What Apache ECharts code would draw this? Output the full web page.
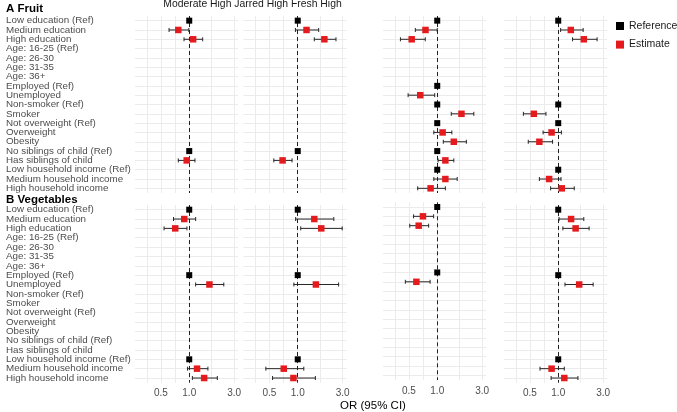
<!DOCTYPE html>
<html>
<head>
<meta charset="utf-8">
<script src="https://cdn.jsdelivr.net/npm/echarts@6/dist/echarts.min.js"></script>
<style>
  html, body { margin: 0; padding: 0; background: #fff; }
  #chart { width: 677px; height: 412px; }
</style>
</head>
<body>
<div id="chart"></div>
<script>
// row labels, top to bottom
const categories = [
  'Low education (Ref)', 'Medium education', 'High education',
  'Age: 16-25 (Ref)', 'Age: 26-30', 'Age: 31-35', 'Age: 36+',
  'Employed (Ref)', 'Unemployed', 'Non-smoker (Ref)', 'Smoker',
  'Not overweight (Ref)', 'Overweight', 'Obesity',
  'No siblings of child (Ref)', 'Has siblings of child',
  'Low household income (Ref)', 'Medium household income', 'High household income'
];
const xTickLabels = [0.5, 1.0, 3.0];
const xGridValues = [0.354, 0.5, 0.707, 1, 1.732, 3];
const referenceOR = 1.0;

// A Fruit
const fruitP1RefCats = ['Low education (Ref)', 'No siblings of child (Ref)'];
const fruitP1EstCats = ['Medium education', 'High education', 'Has siblings of child'];
const fruitP1Est = [0.765, 1.10, 0.94];
const fruitP1Lo = [0.61, 0.88, 0.765];
const fruitP1Hi = [0.99, 1.39, 1.15];

const fruitP2RefCats = ['Low education (Ref)', 'No siblings of child (Ref)'];
const fruitP2EstCats = ['Medium education', 'High education', 'Has siblings of child'];
const fruitP2Est = [1.24, 1.92, 0.69];
const fruitP2Lo = [0.945, 1.50, 0.557];
const fruitP2Hi = [1.67, 2.55, 0.87];

const fruitP3RefCats = ['Low education (Ref)', 'Employed (Ref)', 'Non-smoker (Ref)', 'Not overweight (Ref)', 'No siblings of child (Ref)', 'Low household income (Ref)'];
const fruitP3EstCats = ['Medium education', 'High education', 'Unemployed', 'Smoker', 'Overweight', 'Obesity', 'Has siblings of child', 'Medium household income', 'High household income'];
const fruitP3Est = [0.75, 0.535, 0.66, 1.81, 1.14, 1.50, 1.22, 1.22, 0.85];
const fruitP3Lo = [0.585, 0.406, 0.49, 1.41, 0.92, 1.16, 1.02, 0.92, 0.62];
const fruitP3Hi = [1.0, 0.746, 0.94, 2.45, 1.43, 2.04, 1.50, 1.63, 1.22];

const fruitP4RefCats = ['Low education (Ref)', 'Non-smoker (Ref)', 'Not overweight (Ref)', 'Low household income (Ref)'];
const fruitP4EstCats = ['Medium education', 'High education', 'Smoker', 'Overweight', 'Obesity', 'Medium household income', 'High household income'];
const fruitP4Est = [1.36, 1.87, 0.55, 0.85, 0.63, 0.80, 1.09];
const fruitP4Lo = [1.06, 1.42, 0.426, 0.69, 0.48, 0.63, 0.83];
const fruitP4Hi = [1.84, 2.59, 0.74, 1.08, 0.87, 1.07, 1.48];

// B Vegetables
const vegP1RefCats = ['Low education (Ref)', 'Employed (Ref)', 'Low household income (Ref)'];
const vegP1EstCats = ['Medium education', 'High education', 'Unemployed', 'Medium household income', 'High household income'];
const vegP1Est = [0.885, 0.71, 1.64, 1.21, 1.44];
const vegP1Lo = [0.68, 0.54, 1.17, 0.96, 1.08];
const vegP1Hi = [1.17, 0.945, 2.33, 1.58, 1.99];

const vegP2RefCats = ['Low education (Ref)', 'Employed (Ref)', 'Low household income (Ref)'];
const vegP2EstCats = ['Medium education', 'High education', 'Unemployed', 'Medium household income', 'High household income'];
const vegP2Est = [1.50, 1.78, 1.56, 0.71, 0.90];
const vegP2Lo = [0.95, 1.076, 0.91, 0.458, 0.54];
const vegP2Hi = [2.42, 2.97, 2.72, 1.16, 1.54];

const vegP3RefCats = ['Low education (Ref)', 'Employed (Ref)'];
const vegP3EstCats = ['Medium education', 'High education', 'Unemployed'];
const vegP3Est = [0.705, 0.635, 0.60];
const vegP3Lo = [0.56, 0.51, 0.458];
const vegP3Hi = [0.915, 0.81, 0.84];

const vegP4RefCats = ['Low education (Ref)', 'Employed (Ref)', 'Low household income (Ref)'];
const vegP4EstCats = ['Medium education', 'High education', 'Unemployed', 'Medium household income', 'High household income'];
const vegP4Est = [1.37, 1.53, 1.67, 0.85, 1.16];
const vegP4Lo = [1.02, 1.12, 1.18, 0.64, 0.84];
const vegP4Hi = [1.87, 2.13, 2.35, 1.16, 1.62];

const panels = [
  [fruitP1RefCats, fruitP1EstCats, fruitP1Est, fruitP1Lo, fruitP1Hi],
  [fruitP2RefCats, fruitP2EstCats, fruitP2Est, fruitP2Lo, fruitP2Hi],
  [fruitP3RefCats, fruitP3EstCats, fruitP3Est, fruitP3Lo, fruitP3Hi],
  [fruitP4RefCats, fruitP4EstCats, fruitP4Est, fruitP4Lo, fruitP4Hi],
  [vegP1RefCats, vegP1EstCats, vegP1Est, vegP1Lo, vegP1Hi],
  [vegP2RefCats, vegP2EstCats, vegP2Est, vegP2Lo, vegP2Hi],
  [vegP3RefCats, vegP3EstCats, vegP3Est, vegP3Lo, vegP3Hi],
  [vegP4RefCats, vegP4EstCats, vegP4Est, vegP4Lo, vegP4Hi]
];

const FONT = '"Liberation Sans", Arial, sans-serif';
const gridLeft = [135, 243.5, 383, 504];
const gridTop = [[16, 16, 16, 16], [205, 205, 202.3, 205]];
const gridW = 103;
const gridH = [177, 177.7];
const gridColor = '#ebebeb';

const myChart = echarts.init(document.getElementById('chart'));

const grid = [], xAxis = [], yAxis = [], series = [];

panels.forEach((p, i) => {
  const sec = Math.floor(i / 4), col = i % 4;
  const [refCats, estCats, est, lo, hi] = p;
  grid.push({ left: gridLeft[col], top: gridTop[sec][col], width: gridW, height: gridH[sec] });
  xAxis.push({
    gridIndex: i,
    type: 'log',
    logBase: 10,
    min: 0.265,
    max: 3.3,
    axisLine: { show: false },
    axisTick: { show: false, customValues: xGridValues },
    splitLine: { show: true, customValues: xGridValues, lineStyle: { color: gridColor, width: 1 } },
    axisLabel: {
      show: sec === 1,
      customValues: xTickLabels,
      formatter: v => Number(v).toFixed(1),
      color: '#4d4d4d',
      fontFamily: FONT,
      fontSize: 10,
      margin: 6
    }
  });
  yAxis.push({
    gridIndex: i,
    type: 'category',
    data: categories,
    inverse: true,
    axisLine: { show: false },
    axisTick: { show: false, alignWithLabel: true },
    splitLine: { show: true, alignWithLabel: true, lineStyle: { color: gridColor, width: 1 } },
    axisLabel: {
      show: col === 0,
      interval: 0,
      align: 'left',
      margin: gridLeft[0] - 6,
      color: '#4d4d4d',
      fontFamily: FONT,
      fontSize: 9.8
    }
  });

  // error bars
  series.push({
    type: 'custom',
    xAxisIndex: i,
    yAxisIndex: i,
    silent: true,
    z: 2,
    encode: { x: [0, 1], y: 2 },
    data: estCats.map((c, k) => [lo[k], hi[k], c]),
    renderItem: (params, api) => {
      const y = api.value(2);
      const a = api.coord([api.value(0), y]);
      const b = api.coord([api.value(1), y]);
      const cap = 2;
      const style = { stroke: '#262626', lineWidth: 1 };
      return {
        type: 'group',
        children: [
          { type: 'line', shape: { x1: a[0], y1: a[1], x2: b[0], y2: b[1] }, style },
          { type: 'line', shape: { x1: a[0], y1: a[1] - cap, x2: a[0], y2: a[1] + cap }, style },
          { type: 'line', shape: { x1: b[0], y1: b[1] - cap, x2: b[0], y2: b[1] + cap }, style }
        ]
      };
    }
  });

  series.push({
    name: 'Reference',
    type: 'scatter',
    xAxisIndex: i,
    yAxisIndex: i,
    symbol: 'rect',
    symbolSize: 6,
    z: 4,
    itemStyle: { color: '#000', opacity: 1 },
    data: refCats.map(c => [referenceOR, c]),
    markLine: {
      silent: true,
      symbol: 'none',
      z: 3,
      label: { show: false },
      lineStyle: { type: [4, 3], color: '#222', width: 1 },
      data: [{ xAxis: referenceOR }]
    }
  });

  series.push({
    name: 'Estimate',
    type: 'scatter',
    xAxisIndex: i,
    yAxisIndex: i,
    symbol: 'rect',
    symbolSize: 6.5,
    z: 4,
    itemStyle: { color: '#e41a1c', opacity: 1 },
    data: estCats.map((c, k) => [est[k], c])
  });
});

const options = {
  backgroundColor: '#fff',
  animation: false,
  grid, xAxis, yAxis, series,
  legend: {
    data: ['Reference', 'Estimate'],
    orient: 'vertical',
    left: 616,
    top: 20,
    padding: 0,
    itemWidth: 8,
    itemHeight: 8,
    itemGap: 6.6,
    icon: 'rect',
    textStyle: { color: '#1a1a1a', fontFamily: FONT, fontSize: 10.5, lineHeight: 12 }
  },
  graphic: [
    { type: 'text', left: 6, top: 3, style: { text: 'A Fruit', font: 'bold 11.5px ' + FONT, fill: '#000' } },
    { type: 'text', left: 6, top: 193.5, style: { text: 'B Vegetables', font: 'bold 11.5px ' + FONT, fill: '#000' } },
    { type: 'text', x: 252.5, y: 4.5, style: { text: 'Moderate High Jarred High Fresh High', font: '10.4px ' + FONT, fill: '#1a1a1a', align: 'center', verticalAlign: 'middle' } },
    { type: 'text', x: 373, y: 405.5, style: { text: 'OR (95% CI)', font: '11.5px ' + FONT, fill: '#000', align: 'center', verticalAlign: 'middle' } }
  ]
};

myChart.setOption(options);
</script>
</body>
</html>
